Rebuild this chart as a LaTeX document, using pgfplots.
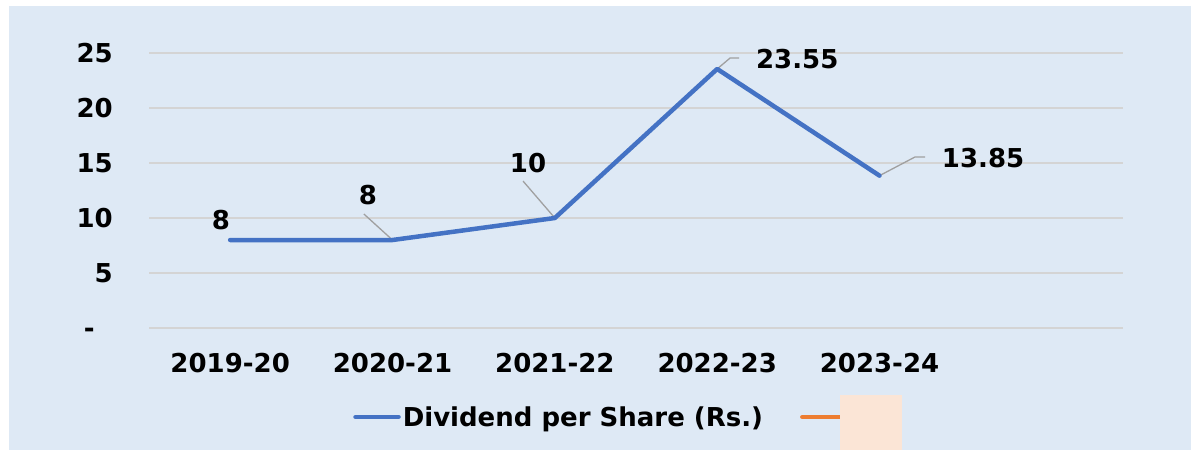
\documentclass[border=0pt]{standalone}
\usepackage{fontspec}
\setmainfont{DejaVu Sans}
\usepackage{pgfplots}
\pgfplotsset{compat=1.18}
\definecolor{bgblue}{HTML}{DEE9F5}
\definecolor{dpsblue}{HTML}{4472C4}
\definecolor{dpsorange}{HTML}{ED7D31}
\definecolor{peach}{HTML}{FBE5D6}
\definecolor{gridgray}{HTML}{D4D4D4}
\definecolor{leadergray}{HTML}{A0A0A0}
\newcommand{\lbl}{\fontsize{26}{31}\selectfont\bfseries}

\begin{document}
\begin{tikzpicture}
\useasboundingbox (0,0) rectangle (1201pt,-450pt);
\fill[white] (0,0) rectangle (1201pt,-450pt);
\fill[bgblue] (9pt,-6pt) rectangle (1191pt,-450pt);
\begin{axis}[
  at={(149pt,-328pt)}, anchor=south west,
  scale only axis, width=974pt, height=275pt,
  xmin=-0.5, xmax=5.5, ymin=0, ymax=25,
  xtick={0,1,2,3,4},
  xticklabels={2019-20,2020-21,2021-22,2022-23,2023-24},
  ytick={0,5,10,15,20,25},
  yticklabels={{-\phantom{0}},5,10,15,20,25},
  axis line style={draw=none},
  major tick length=0pt,
  ymajorgrids, grid style={gridgray, line width=1.1pt},
  tick label style={font=\lbl, inner sep=0pt},
  xticklabel style={anchor=north, yshift=-25pt},
  yticklabel style={anchor=east, xshift=-36pt},
  clip=false,
  legend columns=2,
  legend style={draw=none, fill=none, inner sep=0pt, font=\lbl,
    at={(rel axis cs:0.2095,-0.3236)}, anchor=west,
    /tikz/every even column/.append style={column sep=35pt}},
  legend image code/.code={\draw[#1] (0pt,0pt) -- (43pt,0pt);},
]
% leader lines
\draw[leadergray, line width=1.3pt] (axis cs:0.824,10.36) -- (axis cs:1,8);
\draw[leadergray, line width=1.3pt] (axis cs:1.804,13.36) -- (axis cs:2,10);
\draw[leadergray, line width=1.3pt] (axis cs:3,23.55) -- (axis cs:3.080,24.55) -- (axis cs:3.136,24.55);
\draw[leadergray, line width=1.3pt] (axis cs:4,13.85) -- (axis cs:4.219,15.55) -- (axis cs:4.281,15.55);

\addplot[color=dpsblue, line width=4.5pt, line join=round, line cap=round] coordinates {
  (0,8)(1,8)(2,10)(3,23.55)(4,13.85)
}; \addlegendentry{Dividend per Share (Rs.)}
\addlegendimage{color=dpsorange, line width=4.5pt, line cap=round}
\addlegendentry{}

% data labels
\node[font=\lbl, inner sep=0pt] at (axis cs:-0.057,9.82) {8};
\node[font=\lbl, inner sep=0pt] at (axis cs:0.849,12.09) {8};
\node[font=\lbl, inner sep=0pt] at (axis cs:1.835,15.0) {10};
\node[font=\lbl, inner sep=0pt] at (axis cs:3.493,24.45) {23.55};
\node[font=\lbl, inner sep=0pt] at (axis cs:4.638,15.45) {13.85};
\end{axis}
\fill[peach] (840pt,-395pt) rectangle (902pt,-450pt);
\end{tikzpicture}
\end{document}
